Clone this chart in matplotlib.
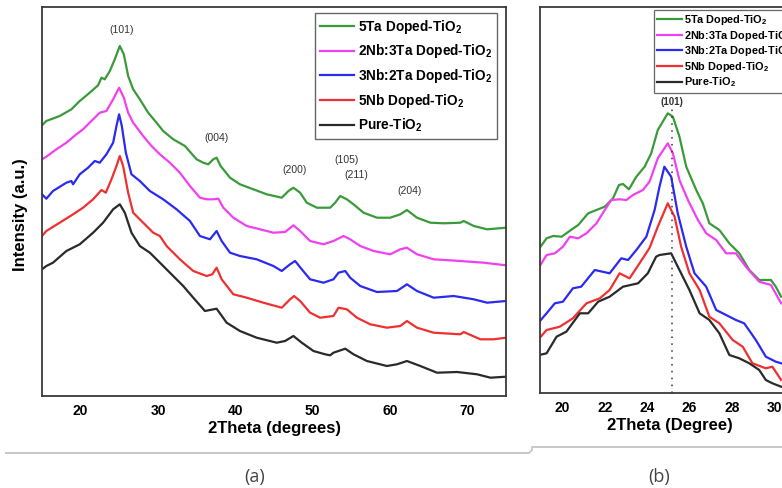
import matplotlib
matplotlib.use("Agg")
import matplotlib.pyplot as plt
from matplotlib.lines import Line2D

plt.rcParams["font.family"] = ["Liberation Sans", "DejaVu Sans"]
plt.rcParams["mathtext.fontset"] = "custom"
plt.rcParams["mathtext.rm"] = "Liberation Sans"
plt.rcParams["mathtext.bf"] = "Liberation Sans:bold"

# ---- (a) full XRD scans, 15-75 deg (offset intensities, a.u.) ----
ta_x = [15.0, 15.56, 17.29, 18.80, 19.88, 21.17, 22.25, 22.69, 23.12, 23.77, 24.41, 25.06, 25.58, 26.14,
        26.79, 27.65, 28.73, 29.81, 30.67, 31.97, 33.48, 34.99, 35.85, 36.50, 37.15, 37.58, 38.10, 39.31,
        40.60, 42.33, 44.06, 46.00, 46.87, 47.51, 48.38, 49.24, 50.54, 52.26, 52.91, 53.56, 54.42, 55.28,
        56.58, 58.31, 60.03, 61.33, 62.19, 63.49, 65.22, 66.94, 69.10, 69.53, 70.83, 72.56, 75.0]
ta_y = [270.7, 275, 280, 286.7, 295, 303.3, 310.7, 318.3, 316.7, 325, 336.7, 350, 341.7, 320,
        306.7, 296.7, 283.3, 273.3, 265, 256.7, 250, 236.7, 233.3, 231.7, 236.7, 238.3, 230, 218.3,
        211.7, 206.7, 201.7, 198.3, 205, 208.3, 203.3, 193.3, 188.3, 188.3, 193.3, 200, 196.7, 191.7,
        183.3, 178.3, 178.3, 181.7, 186, 178.3, 173.3, 172.7, 173.3, 175, 170, 166.7, 168.3]

nbta_x = [15.0, 15.56, 16.86, 18.15, 19.45, 20.31, 21.39, 22.47, 23.33, 24.20, 24.97, 25.58, 26.14, 26.79,
          28.08, 29.16, 30.24, 31.54, 32.83, 34.13, 35.42, 36.29, 37.15, 37.80, 38.45, 39.74, 41.47, 43.19,
          44.92, 46.43, 47.51, 48.38, 49.67, 51.40, 52.69, 53.99, 54.85, 56.15, 57.88, 60.03, 61.33, 62.19,
          63.49, 65.65, 69.10, 72.12, 75.0]
nbta_y = [236.7, 239.3, 246.7, 253.3, 261.7, 266.7, 275, 283.3, 285, 296.7, 308.3, 298.3, 283.3, 273.3,
          260, 250, 241.7, 233.3, 223.3, 210, 198.3, 196.7, 196.7, 197.3, 188.3, 178.3, 170, 166.7,
          163.3, 164, 170.7, 165, 155, 151.7, 155, 160, 156.7, 150, 145, 141.7, 146.7, 148.3,
          141.7, 136.7, 135, 133.3, 130.7]

nb3_x = [15.0, 15.56, 16.42, 18.15, 18.80, 19.02, 19.88, 20.96, 21.82, 22.47, 23.33, 24.20, 24.63, 24.97,
         25.32, 25.84, 26.57, 27.65, 28.95, 30.67, 32.40, 34.13, 35.42, 36.72, 37.58, 38.23, 39.31, 40.60,
         42.76, 44.92, 46.00, 47.08, 47.73, 48.59, 49.67, 51.40, 52.69, 53.34, 54.21, 54.85, 56.15, 58.31,
         60.90, 62.19, 63.49, 65.65, 68.24, 70.83, 72.56, 75.0]
nb3_y = [201.7, 197.3, 205, 213.3, 215, 211.7, 221.7, 228.3, 235, 233.3, 241.7, 253.3, 270, 281.7,
         270, 243.3, 221.7, 215, 205, 196.7, 186.7, 175, 160, 156.7, 165, 155, 143.3, 140,
         136.7, 130, 125, 131.7, 135, 126.7, 116.7, 113.3, 116.7, 123.3, 125, 118.3, 110, 104,
         105, 111.7, 105, 98.3, 100, 96.7, 93.3, 95]

nb_x = [15.0, 15.56, 17.29, 19.02, 20.31, 21.61, 22.69, 23.25, 23.98, 24.63, 25.06, 25.49, 26.14, 26.79,
        28.08, 29.38, 30.24, 31.11, 32.83, 34.56, 36.29, 37.02, 37.58, 38.23, 39.74, 41.47, 43.63, 46.00,
        47.08, 47.60, 48.38, 49.67, 50.97, 52.69, 53.34, 54.42, 55.72, 57.44, 59.60, 61.33, 62.19, 63.49,
        65.65, 69.10, 69.53, 71.69, 73.42, 75.0]
nb_y = [160, 165, 173.3, 181.7, 188.3, 196.7, 206, 203.3, 216.7, 230, 240, 230, 203.3, 183.3,
        173.3, 163.3, 160, 150, 136.7, 125, 120, 121.7, 128.3, 116.7, 101.7, 98.3, 93.3, 88.3,
        96.7, 100, 95, 83.3, 78.3, 80, 88.3, 86.7, 78.3, 71.7, 68.3, 70, 75, 68.3,
        63.3, 61.7, 64, 56.7, 56.7, 58.3]

pure_x = [15.0, 15.56, 16.42, 18.15, 19.88, 21.61, 22.90, 24.20, 25.06, 25.71, 26.57, 27.65, 28.95, 30.03,
          31.54, 33.26, 34.56, 36.07, 37.58, 38.88, 40.60, 42.76, 45.35, 46.43, 47.51, 48.59, 50.10, 51.61,
          52.26, 52.69, 54.21, 55.28, 57.01, 59.60, 60.90, 62.19, 63.92, 66.08, 68.67, 71.26, 72.99, 75.0]
pure_y = [126.7, 130, 133.3, 145, 151.7, 163.3, 173.3, 186.7, 191.7, 183.3, 163.3, 150, 143.3, 135,
          123.3, 110, 98.3, 85, 87.3, 73.3, 65, 58.3, 53.3, 55, 60, 53.3, 45, 41.7,
          40.7, 43.3, 47.3, 41.7, 35, 30, 31.7, 35, 30, 23.3, 24, 21.7, 18.3, 19.3]

# ---- (b) zoom on the (101) reflection, 19-30 deg ----
zta_x = [18.92, 19.26, 19.57, 19.97, 20.36, 20.75, 21.22, 21.61, 22.0, 22.39, 22.67, 22.86, 23.14, 23.49,
         23.88, 24.19, 24.5, 24.97, 25.21, 25.52, 25.84, 26.31, 26.62, 26.93, 27.4, 27.87, 28.34, 28.81,
         29.28, 29.83, 30.06, 30.31]
zta_y = [144.7, 154.7, 157, 156.3, 162.3, 168, 179.7, 183, 186.3, 194.7, 208, 209, 203.7, 216.3,
         226.3, 239.7, 263, 279.7, 276.3, 256.3, 226.3, 203, 189.7, 169.7, 163, 149.7, 139.7, 123,
         113, 113, 106.3, 96.3]

znbta_x = [18.92, 19.26, 19.65, 20.03, 20.36, 20.75, 21.14, 21.61, 22.0, 22.31, 22.7, 23.02, 23.33, 23.8,
           24.11, 24.5, 24.97, 25.21, 25.52, 25.92, 26.39, 26.78, 27.25, 27.72, 28.18, 28.65, 29.28, 29.83,
           30.31]
znbta_y = [126.3, 138, 139.7, 146.3, 156.3, 154.7, 159.7, 169.7, 183, 193, 193.7, 193, 198, 203,
           211.3, 234.7, 249.7, 239.7, 213, 193, 173, 159.7, 153, 139.7, 139.7, 126.3, 111.3, 108,
           89.7]

znb3_x = [18.92, 19.26, 19.65, 20.03, 20.5, 20.89, 21.53, 22.23, 22.78, 23.1, 23.49, 23.96, 24.35, 24.58,
          24.81, 25.13, 25.44, 25.84, 26.23, 26.78, 27.25, 27.72, 28.18, 28.57, 29.12, 29.59, 30.06, 30.31]
znb3_y = [71.3, 79.7, 89.7, 91.3, 104.7, 106.3, 123, 119.7, 134.7, 133, 143, 156.3, 183, 206.3,
          226.3, 216.3, 179.7, 146.3, 119.7, 106.3, 83, 78, 73, 69.7, 53, 36.3, 31.3, 29.7]

znb_x = [18.92, 19.26, 19.88, 20.5, 21.14, 21.77, 22.23, 22.7, 23.17, 23.64, 24.11, 24.5, 24.97, 25.29,
         25.6, 25.99, 26.47, 26.93, 27.4, 28.03, 28.5, 28.96, 29.59, 29.9, 30.31]
znb_y = [54.7, 63, 66.3, 74.7, 89.7, 94.7, 103, 119.7, 114.7, 129.7, 145, 166.3, 189.7, 176.3,
         146.3, 119.7, 103, 76.3, 69.7, 53, 46.3, 29.7, 24.7, 26.3, 13]

zpure_x = [18.92, 19.26, 19.73, 20.19, 20.83, 21.22, 21.69, 22.23, 22.86, 23.57, 24.03, 24.42, 24.58, 25.13,
           25.52, 25.99, 26.47, 26.93, 27.4, 27.87, 28.34, 28.81, 29.28, 29.59, 29.9, 30.31]
zpure_y = [38, 39.7, 56.3, 61.3, 79.7, 79.7, 91.3, 96.3, 106.3, 109.7, 119.7, 136.3, 138, 139.7,
           123, 103, 79.7, 73, 59.7, 38, 34.7, 29.7, 23, 13, 9.7, 6.3]

labels = [r"5Ta Doped-TiO$_\mathbf{2}$", r"2Nb:3Ta Doped-TiO$_\mathbf{2}$",
          r"3Nb:2Ta Doped-TiO$_\mathbf{2}$", r"5Nb Doped-TiO$_\mathbf{2}$", r"Pure-TiO$_\mathbf{2}$"]
colors = ["#3a9a3a", "#f040f0", "#2a2af0", "#f03030", "#2a2a2a"]

# hkl labels on panel (a): text, 2theta, height
hkl = ["(101)", "(004)", "(200)", "(105)", "(211)", "(204)"]
hkl_x = [25.3, 37.6, 47.7, 54.4, 55.6, 62.5]
hkl_y = [366, 258, 226, 236, 221, 205]
peak_101 = 25.15

W, H = 782, 488
fig = plt.figure(figsize=(W / 100, H / 100), dpi=100)


def ax_px(left, top, right, bottom):
    return fig.add_axes([left / W, 1 - bottom / H, (right - left) / W, (bottom - top) / H])


spine_c = "#3a3a3a"

# panel (a)
ax = ax_px(42, 7, 506, 396)
series_a = [(ta_x, ta_y), (nbta_x, nbta_y), (nb3_x, nb3_y), (nb_x, nb_y), (pure_x, pure_y)]
for (x, y), c, lab in zip(series_a, colors, labels):
    ax.plot(x, y, color=c, lw=1.6, label=lab)
for t, x, y in zip(hkl, hkl_x, hkl_y):
    ax.text(x, y, t, ha="center", va="center", fontsize=7.5, color="#333333")
ax.set_xlim(15, 75)
ax.set_ylim(0, 389)
ax.set_yticks([])
ax.set_xticks([20, 30, 40, 50, 60, 70])
ax.tick_params(axis="x", length=0, pad=6, labelsize=10)
for lb in ax.get_xticklabels():
    lb.set_fontweight("bold")
ax.set_xlabel("2Theta (degrees)", fontsize=12, fontweight="bold", labelpad=2)
ax.set_ylabel("Intensity (a.u.)", fontsize=12, fontweight="bold")
ax.yaxis.set_label_coords(-0.031, 0.465)
for s in ax.spines.values():
    s.set_color(spine_c)
    s.set_linewidth(1.3)
leg = ax.legend(loc="upper left", bbox_to_anchor=(0.588, 0.985), borderaxespad=0,
                fancybox=False, edgecolor="#666666", framealpha=1,
                prop={"size": 9.8, "weight": "bold"}, handlelength=2.5,
                handletextpad=0.3, labelspacing=0.5, borderpad=0.35)
leg.get_frame().set_linewidth(1.0)

# panel (b), right edge runs past the figure
bx = ax_px(540, 7, 800, 393)
series_b = [(zta_x, zta_y), (znbta_x, znbta_y), (znb3_x, znb3_y), (znb_x, znb_y), (zpure_x, zpure_y)]
for (x, y), c, lab in zip(series_b, colors, labels):
    bx.plot(x, y, color=c, lw=1.6, label=lab)
bx.plot([peak_101, peak_101], [0, 285], color="#333333", lw=1.1, ls=(0, (1, 3.5)))
bx.text(peak_101, 291, "(101)", ha="center", va="center", fontsize=7,
        fontweight="bold", color="#333333")
bx.set_xlim(18.95, 31.2)
bx.set_ylim(0, 386)
bx.set_yticks([])
bx.set_xticks([20, 22, 24, 26, 28, 30])
bx.tick_params(axis="x", length=0, pad=6, labelsize=10)
for lb in bx.get_xticklabels():
    lb.set_fontweight("bold")
bx.set_xlabel("2Theta (Degree)", fontsize=12, fontweight="bold", labelpad=2)
for s in bx.spines.values():
    s.set_color(spine_c)
    s.set_linewidth(1.3)
lg2 = bx.legend(loc="upper left", bbox_to_anchor=(0.438, 0.993), borderaxespad=0,
                fancybox=False, edgecolor="#666666", framealpha=1,
                prop={"size": 7.8, "weight": "bold"}, handlelength=2.3,
                handletextpad=0.2, labelspacing=0.15, borderpad=0.3)
lg2.get_frame().set_linewidth(0.9)

# caption frame line and sub-figure letters
px = [6, 529, 532, 532, 782]
py = [453, 453, 450, 447, 447]
fig.add_artist(Line2D([p / W for p in px], [1 - p / H for p in py],
                      transform=fig.transFigure, color="#c8c8c8", lw=1.4))
fig.text(255 / W, 1 - 477 / H, "(a)", ha="center", va="center", fontsize=13,
         color="#444444", family=["Open Sans", "DejaVu Sans"])
fig.text(659 / W, 1 - 477 / H, "(b)", ha="center", va="center", fontsize=13,
         color="#444444", family=["Open Sans", "DejaVu Sans"])

fig.savefig("out.png", dpi=100)
